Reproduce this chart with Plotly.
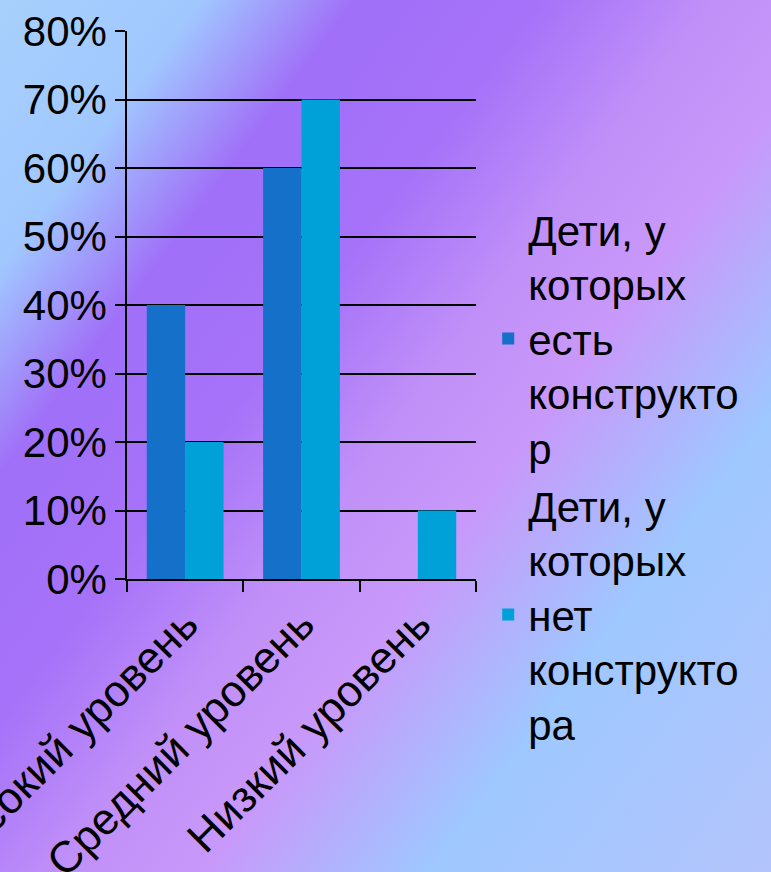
import base64
import plotly.graph_objects as go

categories = ["Высокий уровень", "Средний уровень", "Низкий уровень"]
series_names = [
    "Дети, у<br>которых<br>есть<br>конструкто<br>р",
    "Дети, у<br>которых<br>нет<br>конструкто<br>ра",
]
with_constructor = [0.40, 0.60, 0.0]
without_constructor = [0.20, 0.70, 0.10]
y_ticks = [0, 0.1, 0.2, 0.3, 0.4, 0.5, 0.6, 0.7, 0.8]

W, H = 771, 872
ML, MR, MT, MB = 127, 295, 31, 293
PW, PH = W - ML - MR, H - MT - MB

svg = f'''<svg xmlns="http://www.w3.org/2000/svg" width="{W}" height="{H}" viewBox="0 0 {W} {H}" preserveAspectRatio="none">
<defs><linearGradient id="g" gradientUnits="userSpaceOnUse" x1="0" y1="0" x2="{int(0.8*1140)}" y2="{int(0.6*1140)}">
<stop offset="0" stop-color="#a8d0fc"/>
<stop offset="0.14" stop-color="#a0c8ff"/>
<stop offset="0.25" stop-color="#a070f8"/>
<stop offset="0.38" stop-color="#a672f8"/>
<stop offset="0.50" stop-color="#c090f8"/>
<stop offset="0.60" stop-color="#c898fa"/>
<stop offset="0.76" stop-color="#9ec8ff"/>
<stop offset="1" stop-color="#b4c4fc"/>
</linearGradient></defs>
<rect x="0" y="0" width="{W}" height="{H}" fill="url(#g)"/>
</svg>'''
bg_uri = "data:image/svg+xml;base64," + base64.b64encode(svg.encode("utf-8")).decode("ascii")

FONT = "Liberation Sans, Arial, sans-serif"

fig = go.Figure()
fig.add_trace(go.Bar(x=categories, y=with_constructor, name=series_names[0],
                     marker=dict(color="#1470c8", line=dict(width=0))))
fig.add_trace(go.Bar(x=categories, y=without_constructor, name=series_names[1],
                     marker=dict(color="#00a0d8", line=dict(width=0))))

fig.update_layout(
    width=W, height=H,
    margin=dict(l=ML, r=MR, t=MT, b=MB, autoexpand=False),
    paper_bgcolor="#b090f8",
    plot_bgcolor="rgba(0,0,0,0)",
    barmode="group", bargap=0.34, bargroupgap=0,
    font=dict(family=FONT, color="black", size=40),
    showlegend=True,
    legend=dict(x=1.035, y=0.70, xanchor="left", yanchor="top",
                font=dict(family=FONT, size=42, color="black"),
                bgcolor="rgba(0,0,0,0)", borderwidth=0,
                traceorder="normal", valign="middle", itemwidth=30,
                maxheight=1000),
    images=[dict(source=bg_uri, xref="paper", yref="paper",
                 x=-ML / PW, y=1 + MT / PH, sizex=W / PW, sizey=H / PH,
                 xanchor="left", yanchor="top", sizing="stretch",
                 layer="below")],
)
fig.update_xaxes(
    showline=True, linecolor="black", linewidth=1.5,
    ticks="outside", tickson="boundaries", ticklen=11, tickcolor="black", tickwidth=1.5,
    tickangle=-45, tickfont=dict(family=FONT, size=44, color="black"),
    showgrid=False, automargin=False, range=[-0.5, 2.5],
)
fig.update_yaxes(
    range=[0, 0.8], tickvals=y_ticks, tickformat=".0%",
    showline=True, linecolor="black", linewidth=1.5,
    ticks="outside", ticklen=10, tickcolor="black", tickwidth=1.5,
    showgrid=True, gridcolor="black", gridwidth=1.5,
    zeroline=False, automargin=False,
    tickfont=dict(family=FONT, size=42, color="black"),
)

fig.write_html("out.html", config={"displayModeBar": False},
               post_script="document.body.style.margin='0';document.body.style.overflow='hidden';")
